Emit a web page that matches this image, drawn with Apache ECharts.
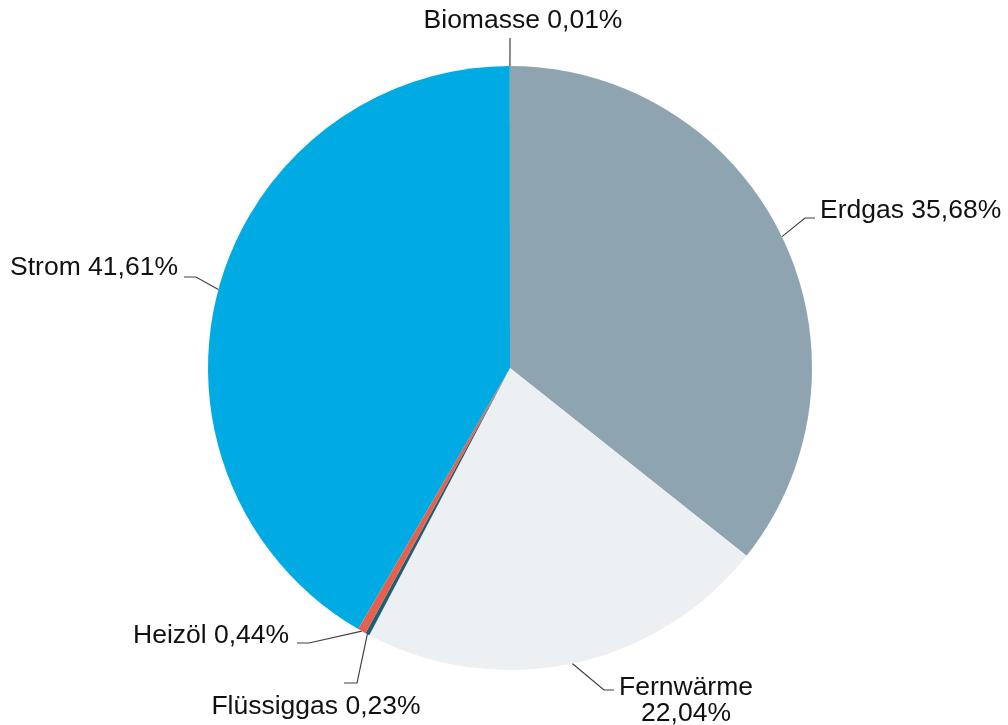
<!DOCTYPE html>
<html><head><meta charset="utf-8">
<script src="https://cdn.jsdelivr.net/npm/echarts@6/dist/echarts.min.js"></script>
<style>html,body{margin:0;padding:0;background:#fff}#c{width:1008px;height:725px}</style>
</head>
<body><div id="c"></div>
<script>
const categories = ['Erdgas', 'Fernwärme', 'Flüssiggas', 'Heizöl', 'Strom', 'Biomasse'];
const values = [35.68, 22.04, 0.23, 0.44, 41.61, 0.01];
const labelTexts = ['Erdgas 35,68%', 'Fernwärme\n22,04%', 'Flüssiggas 0,23%', 'Heizöl 0,44%', 'Strom 41,61%', 'Biomasse 0,01%'];

const colors = ['#8ea4b0', '#ecf0f3', '#1f5f75', '#e8604c', '#00abe4', '#7a9a3a'];
const CX = 510, CY = 368, R = 302;
const labelSpots = [
  {x: 820, y: 211, align: 'left',   bend: [805, 218], end: [815, 218]},
  {x: 686, y: 701, align: 'center', bend: [604, 690], end: [614, 690]},
  {x: 316, y: 707, align: 'center', bend: [357, 683], end: [344, 683]},
  {x: 133, y: 636, align: 'left',   bend: [309, 643], end: [297, 643]},
  {x: 178, y: 268, align: 'right',  bend: [196, 277], end: [184, 277]},
  {x: 523, y: 21,  align: 'center', bend: [510, 52],  end: [510, 38]}
];

const total = values.reduce((a, b) => a + b, 0);
const midFrac = [];
let cum = 0;
values.forEach(v => { midFrac.push((cum + v / 2) / total); cum += v; });

const chart = echarts.init(document.getElementById('c'), null, {renderer: 'canvas'});
chart.setOption({
  animation: false,
  backgroundColor: '#ffffff',
  series: [{
    type: 'pie',
    center: [CX, CY],
    radius: R,
    startAngle: 90,
    clockwise: true,
    avoidLabelOverlap: false,
    minAngle: 0,
    itemStyle: {borderWidth: 0},
    emphasis: {disabled: true},
    data: categories.map((c, i) => ({name: c, value: values[i], itemStyle: {color: colors[i]}})),
    label: {
      show: true,
      formatter: p => labelTexts[p.dataIndex],
      fontFamily: 'Liberation Sans, Arial, sans-serif',
      fontSize: 26.5,
      lineHeight: 26,
      color: '#111111'
    },
    labelLine: {show: true, lineStyle: {color: '#404040', width: 1.2}},
    labelLayout: function (params) {
      const i = params.dataIndex;
      const s = labelSpots[i];
      const th = midFrac[i] * 2 * Math.PI;
      const start = [CX + R * Math.sin(th), CY - R * Math.cos(th)];
      return {
        x: s.x, y: s.y, align: s.align, verticalAlign: 'middle',
        labelLinePoints: [start, s.bend, s.end]
      };
    }
  }]
});
</script>
</body></html>
